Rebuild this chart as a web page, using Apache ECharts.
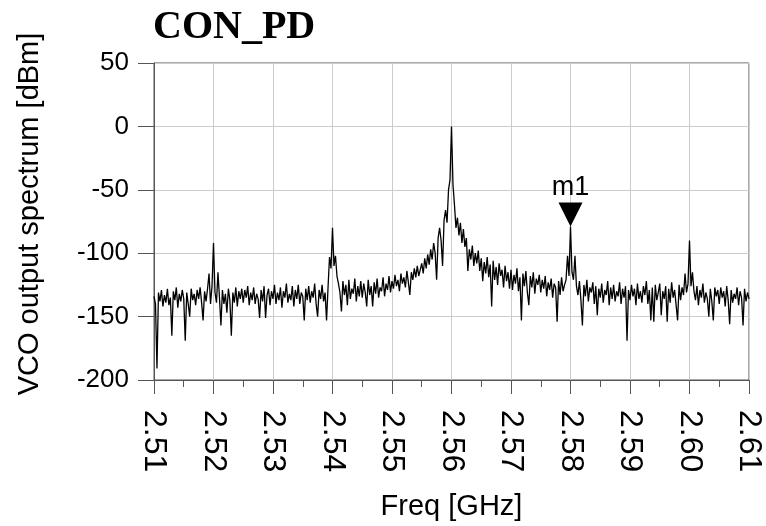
<!DOCTYPE html>
<html>
<head>
<meta charset="utf-8">
<script src="https://cdn.jsdelivr.net/npm/echarts@6/dist/echarts.min.js"></script>
<style>html,body{margin:0;padding:0;background:#fff}#c{width:766px;height:526px}</style>
</head>
<body>
<div id="c"></div>
<script>
const chartTitle = 'CON_PD';
const xName = 'Freq [GHz]';
const yName = 'VCO output spectrum [dBm]';
const freqStart = 2.51;
const freqStep = 0.00025;
const xTicks = [2.51, 2.52, 2.53, 2.54, 2.55, 2.56, 2.57, 2.58, 2.59, 2.60, 2.61];
const yTicks = [-200, -150, -100, -50, 0, 50];
const markerName = 'm1';
const markerFreq = 2.58;
const markerValue = -79;
// spectrum (dBm), one value per 0.25 MHz from 2.51 GHz
const spectrum = [
-134,-140,-191,-131,-138,-129,-142,-133,-139,-128,-141,-135,-165,-130,-137,-127,-143,-132,-138,-129,
-136,-169,-131,-140,-150,-128,-137,-132,-141,-129,-136,-127,-139,-153,-130,-138,-128,-116,-140,-126,
-92,-131,-139,-115,-135,-157,-129,-140,-132,-147,-128,-137,-165,-131,-139,-127,-142,-130,-136,-128,
-139,-129,-135,-126,-141,-131,-137,-127,-140,-132,-136,-151,-129,-138,-126,-151,-133,-128,-141,-130,
-136,-125,-140,-131,-137,-127,-143,-130,-135,-124,-139,-132,-137,-126,-142,-129,-136,-125,-140,-131,
-134,-153,-128,-137,-126,-139,-130,-135,-124,-140,-150,-129,-136,-125,-138,-131,-153,-127,-103,-112,
-80,-110,-102,-118,-124,-131,-146,-122,-133,-125,-141,-121,-136,-128,-132,-120,-138,-126,-134,-122,
-135,-124,-131,-142,-121,-133,-126,-142,-123,-132,-120,-135,-127,-130,-119,-134,-124,-129,-118,-131,
-122,-128,-117,-126,-121,-130,-116,-124,-119,-127,-114,-123,-133,-115,-121,-112,-119,-110,-118,-113,
-108,-116,-104,-112,-101,-109,-97,-105,-92,-100,-121,-88,-80,-90,-110,-74,-66,-76,-50,-42,
0,-46,-62,-80,-72,-86,-76,-92,-81,-95,-88,-114,-97,-105,-94,-110,-100,-108,-98,-114,
-104,-122,-107,-116,-103,-119,-109,-142,-106,-121,-111,-125,-108,-118,-113,-127,-110,-122,-115,-128,
-113,-129,-117,-124,-112,-130,-119,-153,-116,-126,-114,-131,-141,-118,-127,-115,-132,-120,-125,-117,
-131,-121,-128,-118,-134,-123,-129,-120,-135,-124,-127,-154,-122,-133,-119,-130,-125,-121,-102,-118,
-79,-115,-121,-102,-126,-133,-122,-137,-157,-125,-134,-121,-138,-127,-131,-123,-140,-126,-149,-128,
-135,-124,-139,-129,-133,-122,-141,-127,-136,-125,-138,-130,-134,-123,-140,-128,-135,-126,-169,-129,
-137,-125,-134,-128,-141,-124,-136,-130,-139,-126,-133,-122,-140,-129,-153,-127,-154,-125,-137,-131,
-124,-149,-130,-136,-126,-154,-128,-139,-123,-135,-129,-141,-153,-125,-137,-127,-133,-116,-131,-124,
-90,-126,-115,-130,-137,-126,-141,-129,-135,-124,-139,-131,-136,-150,-128,-138,-153,-127,-134,-129,
-140,-127,-135,-130,-142,-126,-137,-156,-129,-139,-132,-136,-127,-141,-130,-135,-157,-128,-138,-131,
-136
];

const seriesData = spectrum.map((v, i) => [+(freqStart + i * freqStep).toFixed(5), v]);
const sans = 'Liberation Sans, Arial, sans-serif';
const chart = echarts.init(document.getElementById('c'), null, {renderer: 'canvas'});
chart.setOption({
  animation: false,
  backgroundColor: '#fff',
  title: {
    text: chartTitle, left: 148, top: 3,
    textStyle: {fontFamily: 'Liberation Serif, Times New Roman, serif', fontWeight: 'bold', fontSize: 40, color: '#000'}
  },
  grid: {left: 154, right: 17, top: 63, bottom: 144, show: true, borderColor: '#555', borderWidth: 1, backgroundColor: 'transparent'},
  xAxis: {
    type: 'value', min: xTicks[0], max: xTicks[xTicks.length - 1], interval: 0.01,
    name: xName, nameLocation: 'middle', nameGap: 112,
    nameTextStyle: {fontFamily: sans, fontSize: 29, color: '#000'},
    axisLine: {show: true, onZero: false, lineStyle: {color: '#555', width: 1}},
    axisTick: {show: true, length: 14, lineStyle: {color: '#555'}},
    minorTick: {show: true, splitNumber: 2, length: 7, lineStyle: {color: '#555'}},
    axisLabel: {rotate: -90, margin: 30, fontFamily: sans, fontSize: 32, color: '#000',
      formatter: v => v.toFixed(2), showMinLabel: true, showMaxLabel: true},
    splitLine: {show: true, lineStyle: {color: '#cccccc', width: 1}}
  },
  yAxis: {
    type: 'value', min: yTicks[0], max: yTicks[yTicks.length - 1], interval: 50,
    axisLine: {show: true, onZero: false, lineStyle: {color: '#555', width: 1}},
    axisTick: {show: true, length: 16, lineStyle: {color: '#555'}},
    axisLabel: {margin: 25, fontFamily: sans, fontSize: 26, color: '#000'},
    splitLine: {show: true, lineStyle: {color: '#cccccc', width: 1}}
  },
  graphic: [{
    type: 'text', x: 30, y: 214, rotation: Math.PI / 2,
    style: {text: yName, fontFamily: sans, fontSize: 29, fill: '#000', align: 'center', verticalAlign: 'middle'}
  }],
  series: [{
    type: 'line', data: seriesData, showSymbol: false, symbol: 'none',
    lineStyle: {color: '#000', width: 1.3}, z: 3,
    markPoint: {
      symbol: 'path://M0,0 L24,0 L12,24 Z', symbolSize: [24, 24], symbolOffset: [0, -12],
      itemStyle: {color: '#000'},
      label: {show: true, position: 'top', distance: 2, formatter: markerName, fontFamily: sans, fontSize: 27, color: '#000'},
      data: [{coord: [markerFreq, markerValue]}]
    }
  }]
});
</script>
</body>
</html>
